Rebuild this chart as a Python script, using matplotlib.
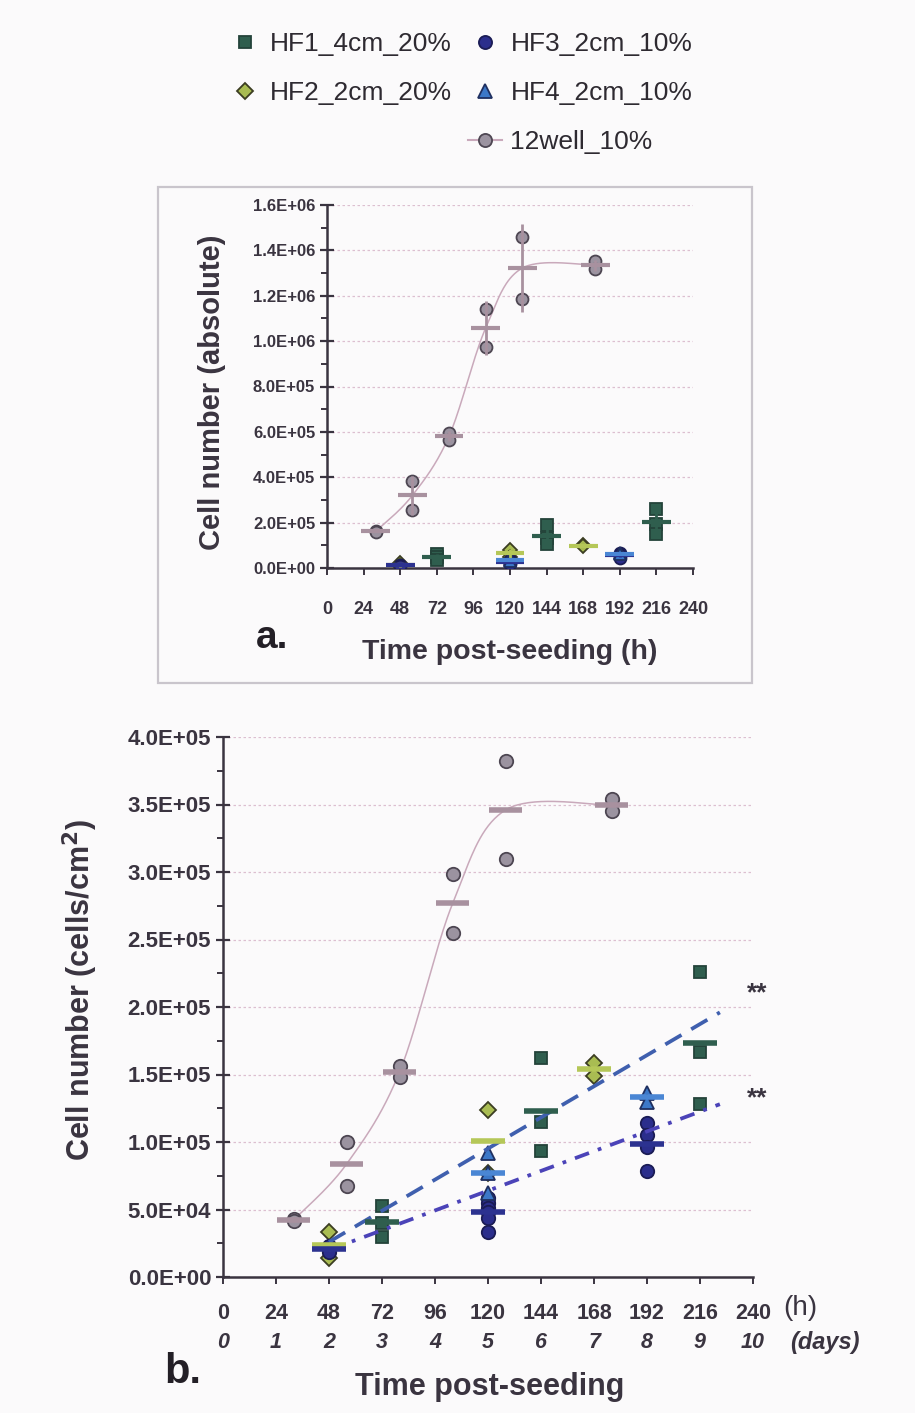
import numpy as np
import matplotlib.pyplot as plt
import matplotlib.transforms as mtransforms
from matplotlib.lines import Line2D
from matplotlib.patches import Rectangle

plt.rcParams['font.family'] = ['Liberation Sans', 'DejaVu Sans']

# data (cells/cm2)
hour_ticks = [0, 24, 48, 72, 96, 120, 144, 168, 192, 216, 240]
day_ticks = [0, 1, 2, 3, 4, 5, 6, 7, 8, 9, 10]

well_hours = [32, 56, 80, 104, 128, 176]
well_cells = [[43000, 41500], [100000, 67500], [156000, 148000],
              [298500, 255000], [382000, 310000], [354000, 345000]]

hf1_hours = [72, 144, 216]
hf1_cells = [[52500, 40000, 30000], [162000, 115000, 93000], [226000, 167000, 128000]]

hf2_hours = [48, 120, 168]
hf2_cells = [[33000, 14000], [124000, 77000], [158500, 149000]]

hf3_hours = [48, 120, 192]
hf3_cells = [[23000, 18500], [58500, 55000, 51000, 48000, 43500, 33500],
             [114000, 105000, 96000, 78500]]

hf4_hours = [120, 192]
hf4_cells = [[92000, 77000, 62000], [136000, 130000]]

# linear trends for 20% and 10% hollow fibres
trend_hours = [48, 225]
trend_20 = [26000, 196000]
trend_10 = [20000, 128000]
star_hours = [242, 242]
star_cells = [210000, 132500]

# growth area (cm2) -> absolute cell number for panel a
area = {'HF1': 1.16, 'HF2': 0.64, 'HF3': 0.58, 'HF4': 0.48, '12well': 3.82}

series = [
    dict(key='HF1', label='HF1_4cm_20%', hours=hf1_hours, cells=hf1_cells, marker='s',
         face='#2f5e4e', edge='#23433a', bar='#2f5e4e', ms=1.0),
    dict(key='HF2', label='HF2_2cm_20%', hours=hf2_hours, cells=hf2_cells, marker='D',
         face='#a9bc52', edge='#3b3d22', bar='#b5c758', ms=0.9),
    dict(key='HF3', label='HF3_2cm_10%', hours=hf3_hours, cells=hf3_cells, marker='o',
         face='#2b2e8c', edge='#1b1c55', bar='#2c3290', ms=1.05),
    dict(key='HF4', label='HF4_2cm_10%', hours=hf4_hours, cells=hf4_cells, marker='^',
         face='#3c78c8', edge='#1f2f60', bar='#4a86d4', ms=1.05),
    dict(key='12well', label='12well_10%', hours=well_hours, cells=well_cells, marker='o',
         face='#9b93a0', edge='#4d4652', bar='#a8919f', ms=1.05),
]
curve_color = '#c9a9bb'
axis_color = '#3a3440'
grid_color = '#dcbfd0'


def smooth_curve(x, y, n=40):
    # excel-style smoothed line (bezier through the points)
    p = np.column_stack([x, y]).astype(float)
    pts = []
    for i in range(len(p) - 1):
        p0 = p[max(i - 1, 0)]
        p1 = p[i]
        p2 = p[i + 1]
        p3 = p[min(i + 2, len(p) - 1)]
        c1 = p1 + (p2 - p0) / 6
        c2 = p2 - (p3 - p1) / 6
        t = np.linspace(0, 1, n)[:, None]
        seg = ((1 - t) ** 3) * p1 + 3 * ((1 - t) ** 2) * t * c1 + 3 * (1 - t) * t ** 2 * c2 + t ** 3 * p2
        pts.append(seg)
    pts = np.vstack(pts)
    return pts[:, 0], pts[:, 1]


def style_axes(ax, ymax, ystep, tick_size):
    ax.set_xlim(0, 240)
    ax.set_ylim(0, ymax)
    ax.set_facecolor('none')
    for side in ['top', 'right']:
        ax.spines[side].set_visible(False)
    for side in ['left', 'bottom']:
        ax.spines[side].set_color(axis_color)
        ax.spines[side].set_linewidth(1.8)
    ax.set_yticks(np.arange(0, ymax + 1, ystep))
    ax.set_yticks(np.arange(ystep / 2, ymax, ystep), minor=True)
    ax.set_yticklabels(['%.1E' % v for v in np.arange(0, ymax + 1, ystep)],
                       fontsize=tick_size, fontweight='bold', color=axis_color)
    ax.set_xticks(hour_ticks)
    ax.tick_params(axis='y', which='major', direction='inout', length=10, width=1.6, color=axis_color)
    ax.tick_params(axis='y', which='minor', direction='out', length=4, width=1.4, color=axis_color)
    ax.tick_params(axis='x', which='major', direction='out', length=5, width=1.4, color=axis_color)
    ax.yaxis.grid(True, which='major', color=grid_color, linestyle=(0, (2, 2)), linewidth=0.9)
    ax.set_axisbelow(True)


def draw_points(ax, absolute, msize, half_width, bar_lw, errbars):
    for s in series:
        f = area[s['key']] if absolute else 1.0
        hours = np.array(s['hours'], dtype=float)
        means = np.array([np.mean(r) for r in s['cells']]) * f
        sds = np.array([np.std(r, ddof=1) for r in s['cells']]) * f
        for h, reps in zip(hours, s['cells']):
            vals = np.array(reps) * f
            ax.plot(np.full(len(vals), h), vals, linestyle='none', marker=s['marker'],
                    ms=msize * s['ms'], mfc=s['face'], mec=s['edge'], mew=1.3, zorder=3)
        ax.hlines(means, hours - half_width, hours + half_width, colors=s['bar'],
                  linewidth=bar_lw, zorder=5)
        if errbars:
            ax.errorbar(hours, means, yerr=sds, fmt='none', ecolor=s['bar'],
                        elinewidth=2.0, capsize=0, zorder=5)
        if s['key'] == '12well':
            cx, cy = smooth_curve(hours, means)
            ax.plot(cx, cy, color=curve_color, linewidth=1.1, zorder=2)


fig = plt.figure(figsize=(9.15, 14.13), dpi=100)
fig.patch.set_facecolor('#fbfafb')
W, H = 915, 1413

# panel a
ax1 = fig.add_axes([327 / W, 1 - 568 / H, 366 / W, 363 / H])
style_axes(ax1, 1.6e6, 2e5, 12)
ax1.set_xticklabels([str(h) for h in hour_ticks], fontsize=13, fontweight='bold', color=axis_color)
ax1.tick_params(axis='x', pad=19)
draw_points(ax1, True, 8.2, 9.5, 3.0, True)

fig.add_artist(Rectangle((158 / W, 1 - 683 / H), (752 - 158) / W, (683 - 187) / H,
                         transform=fig.transFigure, fill=False, edgecolor='#c9c5cc', linewidth=1.6))
fig.text(510 / W, 1 - 652 / H, 'Time post-seeding (h)', ha='center', va='center',
         fontsize=20.5, fontweight='bold', color=axis_color)
fig.text(212 / W, 1 - 392 / H, 'Cell number (absolute)', ha='center', va='center', rotation=90,
         fontsize=21, fontweight='bold', color=axis_color)
fig.text(272 / W, 1 - 638 / H, 'a.', ha='center', va='center', fontsize=28, fontweight='bold',
         color='#231f26')

# panel b
ax2 = fig.add_axes([223 / W, 1 - 1277 / H, 530 / W, 540 / H])
style_axes(ax2, 4e5, 5e4, 16)
ax2.set_xticklabels([str(h) for h in hour_ticks], fontsize=15.5, fontweight='bold', color=axis_color)
ax2.tick_params(axis='x', pad=14)
draw_points(ax2, False, 9.2, 7.5, 4.0, False)

ax2.plot(trend_hours, trend_20, color='#3f5fae', linewidth=2.7, linestyle=(0, (5, 3)), zorder=4)
ax2.plot(trend_hours, trend_10, color='#4b43b8', linewidth=2.7, linestyle=(0, (4, 2.5, 1, 2.5)), zorder=4)
for h, c in zip(star_hours, star_cells):
    ax2.text(h, c, '**', ha='center', va='center', fontsize=19, fontweight='bold',
             color=axis_color, clip_on=False)

trans = mtransforms.blended_transform_factory(ax2.transData, ax2.transAxes)
for h, d in zip(hour_ticks, day_ticks):
    ax2.text(h, -0.121, str(d), transform=trans, ha='center', va='center', fontsize=15.5,
             fontweight='bold', style='italic', color=axis_color)
ax2.text(1.089, -0.058, '(h)', transform=ax2.transAxes, ha='center', va='center',
         fontsize=20, color=axis_color)
ax2.text(1.136, -0.121, '(days)', transform=ax2.transAxes, ha='center', va='center',
         fontsize=17, fontweight='bold', style='italic', color=axis_color)

fig.text(490 / W, 1 - 1387 / H, 'Time post-seeding', ha='center', va='center',
         fontsize=22, fontweight='bold', color=axis_color)
fig.text(80 / W, 1 - 990 / H, 'Cell number (cells/cm$^{\\mathbf{2}}$)', ha='center', va='center',
         rotation=90, fontsize=22, fontweight='bold', color=axis_color)
fig.text(183 / W, 1 - 1372 / H, 'b.', ha='center', va='center', fontsize=30, fontweight='bold',
         color='#231f26')

# legend
handles = []
labels = []
for s in series[:2]:
    handles.append(Line2D([], [], linestyle='none', marker=s['marker'], ms=9 * s['ms'],
                          mfc=s['face'], mec=s['edge'], mew=1.3))
    labels.append(s['label'])
handles.append(Line2D([], [], linestyle='none'))
labels.append('')
for s in series[2:]:
    ls = '-' if s['key'] == '12well' else 'none'
    handles.append(Line2D([], [], linestyle=ls, color=curve_color, linewidth=1.5,
                          marker=s['marker'], ms=9 * s['ms'], mfc=s['face'], mec=s['edge'], mew=1.3))
    labels.append(s['label'])
leg = fig.legend(handles, labels, ncol=2, loc='upper left', bbox_to_anchor=(228 / W, 1 - 32 / H),
                 frameon=False, fontsize=19, handlelength=1.3, handletextpad=0.3,
                 columnspacing=0.6, labelspacing=0.95, borderpad=0, borderaxespad=0)
for t in leg.get_texts():
    t.set_color('#2e2a31')

fig.savefig('out.png', dpi=100, facecolor=fig.get_facecolor())
